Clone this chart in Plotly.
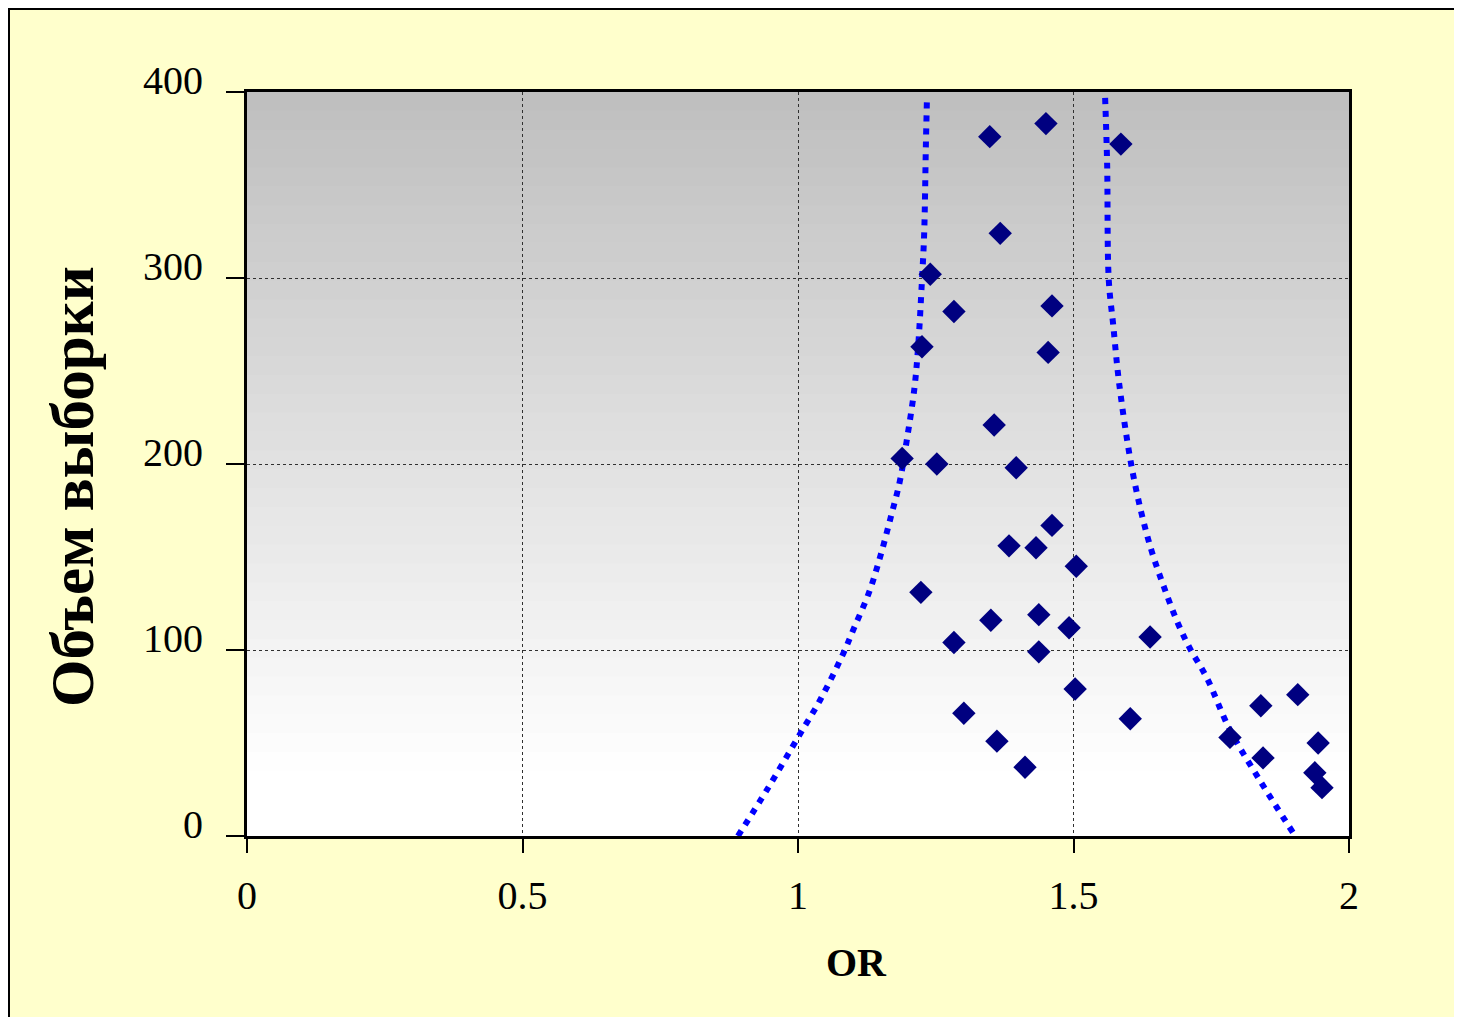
import plotly.graph_objects as go

# Scatter points (OR, sample size)
or_values = [1.348, 1.450, 1.586, 1.367, 1.240, 1.283, 1.461, 1.225, 1.454,
             1.356, 1.189, 1.252, 1.396, 1.461, 1.383, 1.432, 1.505, 1.223,
             1.350, 1.437, 1.492, 1.283, 1.639, 1.437, 1.503, 1.301, 1.603,
             1.361, 1.412, 1.907, 1.840, 1.784, 1.844, 1.944, 1.938, 1.951]
sample_size = [376, 383, 372, 324, 302, 282, 285, 263, 260,
               221, 203, 200, 198, 167, 156, 155, 145, 131,
               116, 119, 112, 104, 107, 99, 79, 66, 63,
               51, 37, 76, 70, 53, 42, 50, 34, 26]

# Funnel boundaries
left_x = [0.891, 0.944, 1.004, 1.040, 1.082, 1.102, 1.129, 1.150, 1.168, 1.185,
          1.197, 1.211, 1.218, 1.225, 1.229, 1.232, 1.234]
left_y = [0, 25, 55, 73, 98, 112, 131, 151, 171, 191,
          212, 240, 263, 299, 324, 370, 396]
right_x = [1.898, 1.838, 1.784, 1.742, 1.711, 1.690, 1.664, 1.642, 1.623, 1.604,
           1.583, 1.572, 1.564, 1.561, 1.557]
right_y = [2, 30, 57, 85, 101, 114, 134, 153, 174, 201,
           243, 275, 299, 362, 400]

x_ticks = [0, 0.5, 1, 1.5, 2]
x_tick_labels = ["0", "0.5", "1", "1.5", "2"]
y_ticks = [0, 100, 200, 300, 400]
y_tick_labels = ["0", "100", "200", "300", "400"]

SERIF = "Liberation Serif, Times New Roman, serif"

# figure is placed at (8, 8) in the page by the body margin
OFF = 8
W, H = 1462 - 2 * OFF, 1025 - 2 * OFF
L, T = 247 - OFF, 92 - OFF
R = W - (1349 - OFF)
B = H - (836 - OFF)
pw, ph = W - L - R, H - T - B


def px2x(px):
    return (px - OFF - L) / pw


def py2y(py):
    return (H - B - (py - OFF)) / ph


fig = go.Figure()
for xs, ys in ((left_x, left_y), (right_x, right_y)):
    fig.add_trace(go.Scatter(x=xs, y=ys, mode="lines", line_shape="spline",
                             line=dict(color="#0000FF", width=6, dash="6px,7px"),
                             hoverinfo="skip", showlegend=False))
fig.add_trace(go.Scatter(x=or_values, y=sample_size, mode="markers",
                         marker=dict(symbol="diamond", size=18, color="#000080",
                                     line=dict(width=0)),
                         showlegend=False))

shapes = []
# outer frame border
shapes.append(dict(type="rect", xref="paper", yref="paper", layer="below",
                   x0=px2x(OFF + 1), x1=px2x(1600), y0=py2y(OFF + 1), y1=py2y(1100),
                   fillcolor="rgba(0,0,0,0)", line=dict(color="black", width=2)))
# gradient plot background in bands
n = 36
y_top, y_white = 400.0, 35.0
step = (y_top - y_white) / n
for i in range(n):
    y1 = y_top - i * step
    y0 = y1 - step - 0.6
    g = int(round(190 + (255 - 190) * (i + 0.5) / n))
    shapes.append(dict(type="rect", xref="x", yref="y", layer="below",
                       x0=0, x1=2, y0=max(y0, 0), y1=y1,
                       fillcolor=f"rgb({g},{g},{g})", line=dict(width=0)))
shapes.append(dict(type="rect", xref="x", yref="y", layer="below",
                   x0=0, x1=2, y0=0, y1=y_white,
                   fillcolor="white", line=dict(width=0)))

fig.update_layout(
    width=W, height=H,
    margin=dict(l=L, r=R, t=T, b=B, pad=0),
    paper_bgcolor="#FFFFCC",
    plot_bgcolor="white",
    shapes=shapes,
    font=dict(family=SERIF, color="black"),
    annotations=[
        dict(text="<b>OR</b>", xref="paper", yref="paper",
             x=px2x(856), y=py2y(962), showarrow=False,
             font=dict(family=SERIF, size=40, color="black"),
             xanchor="center", yanchor="middle"),
        dict(text="<b>Объем выборки</b>", xref="paper", yref="paper",
             x=px2x(72), y=py2y(487), showarrow=False, textangle=-90,
             font=dict(family=SERIF, size=61, color="black"),
             xanchor="center", yanchor="middle"),
    ],
)
fig.update_xaxes(range=[0, 2], tickvals=x_ticks, ticktext=x_tick_labels,
                 showline=True, linecolor="black", linewidth=3, mirror=True,
                 ticks="outside", ticklen=14, tickwidth=1.5, tickcolor="black",
                 showgrid=True, gridcolor="#303030", gridwidth=1, griddash="dot",
                 zeroline=False, tickfont=dict(family=SERIF, size=40),
                 ticklabelstandoff=8)
fig.update_yaxes(range=[0, 400], tickvals=y_ticks, ticktext=y_tick_labels,
                 showline=True, linecolor="black", linewidth=3, mirror=True,
                 ticks="outside", ticklen=18, tickwidth=1.5, tickcolor="black",
                 showgrid=True, gridcolor="#303030", gridwidth=1, griddash="dot",
                 zeroline=False, tickfont=dict(family=SERIF, size=40),
                 ticklabelstandoff=15, ticklabelshift=-12)

fig.write_html("out.html")
